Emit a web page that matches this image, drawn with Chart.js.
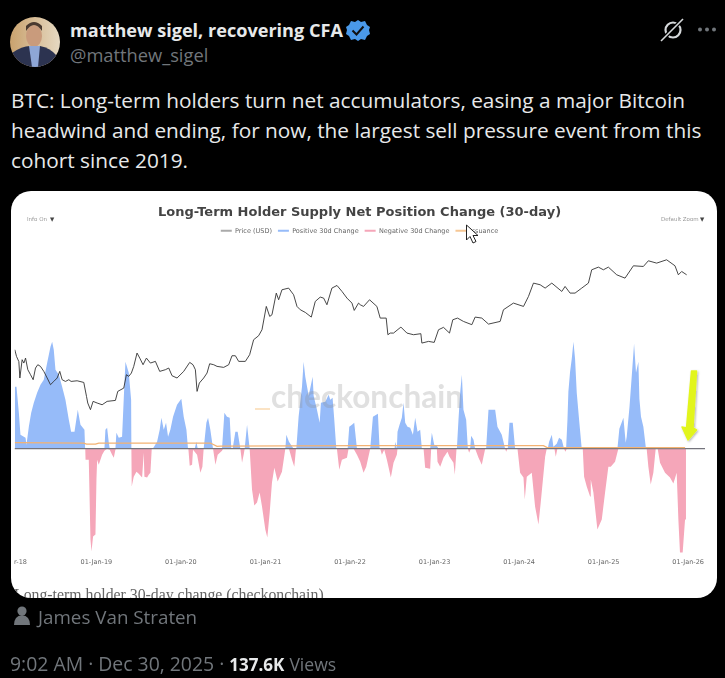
<!DOCTYPE html>
<html>
<head>
<meta charset="utf-8">
<title>Long-Term Holder Supply Net Position Change</title>
<script src="https://cdn.jsdelivr.net/npm/chart.js@4"></script>
<style>
    html, body { margin: 0; padding: 0; width: 725px; height: 678px; background: #000; overflow: hidden; }
    body { position: relative; font-family: "Open Sans", sans-serif; }
    .abs { position: absolute; white-space: nowrap; }
    #name { left: 70px; top: 18px; font-size: 18.1px; line-height: 24px; font-weight: 700; color: #e7e9ea; }
    #handle { left: 70px; top: 43px; font-size: 18.3px; line-height: 24px; color: #71767b; }
    .tweet { left: 11px; font-size: 20.8px; line-height: 30px; color: #e7e9ea; }
    #card { position: absolute; left: 11px; top: 191px; width: 706px; height: 407px; background: #fff; border-radius: 20px; overflow: hidden; }
    #chart { position: absolute; left: 0; top: 0; }
    .ctl { font-family: "DejaVu Sans", sans-serif; font-size: 5.5px; color: #999; }
    #mark { left: 260px; top: 185px; font-family: "Lato", sans-serif; font-weight: 700; font-size: 31.6px; line-height: 40px; color: rgba(140,140,140,0.27); }
    #dash { position: absolute; left: 244px; top: 217px; width: 15px; height: 2px; background: #fbe3c4; }
    #caption { left: 3px; top: 395px; font-family: "Liberation Serif", serif; font-size: 15.8px; line-height: 18px; color: #666; }
    #author { left: 38px; top: 605px; font-size: 18.8px; line-height: 24px; color: #71767b; }
    #stamp { left: 10px; top: 652px; font-size: 19.4px; line-height: 24px; color: #71767b; }
    #stamp b { color: #e7e9ea; font-size: 17px; }
    #stamp span { font-size: 17.6px; }
</style>
</head>
<body>
<svg class="abs" style="left:0;top:0" width="725" height="190">
    <defs>
        <clipPath id="face"><circle cx="35" cy="42" r="25"/></clipPath>
        <linearGradient id="wall" x1="0" x2="1" y1="0" y2="0"><stop offset="0" stop-color="#c9a26e"/><stop offset="1" stop-color="#e6d9c2"/></linearGradient>
    </defs>
    <g clip-path="url(#face)">
        <rect x="10" y="17" width="50" height="50" fill="url(#wall)"/>
        <ellipse cx="34" cy="36" rx="8" ry="11" fill="#c99b7c"/>
        <path d="M26 31 Q34 19 42 31 L42 26 Q34 18 26 26 Z" fill="#4a3a30"/>
        <path d="M10 67 L12 53 Q22 46 30 46 L40 46 Q50 48 56 55 L58 67 Z" fill="#2c3350"/>
        <path d="M29 46 L40 46 L38 67 L32 67 Z" fill="#8ea6d6"/>
    </g>
    <polygon points="358,20 361,22 365,21 367,25 370,27 369,30 370,34 367,36 365,40 361,39 358,41 355,39 351,40 349,36 346,34 347,30 346,27 349,25 351,21 355,22" fill="#4a99e9"/>
    <path d="M352.5 30.5 L356.5 34.5 L363.5 26.5" fill="none" stroke="#111" stroke-width="2"/>
    <circle cx="673" cy="30" r="7.5" fill="none" stroke="#d6d9db" stroke-width="2.2"/>
    <line x1="661" y1="41" x2="683" y2="19" stroke="#000" stroke-width="4"/>
    <line x1="661" y1="41" x2="683" y2="19" stroke="#d6d9db" stroke-width="1.6"/>
    <circle cx="700" cy="29.5" r="2" fill="#71767b"/><circle cx="707" cy="29.5" r="2" fill="#71767b"/><circle cx="714" cy="29.5" r="2" fill="#71767b"/>
</svg>
<div id="name" class="abs">matthew sigel, recovering CFA</div>
<div id="handle" class="abs">@matthew_sigel</div>
<div class="abs tweet" style="top:85px">BTC: Long-term holders turn net accumulators, easing a major Bitcoin</div>
<div class="abs tweet" style="top:115px">headwind and ending, for now, the largest sell pressure event from this</div>
<div class="abs tweet" style="top:145px">cohort since 2019.</div>

<div id="card">
    <canvas id="chart" width="706" height="407"></canvas>
    <div id="mark" class="abs">checkonchain</div>
    <div id="dash"></div>
    <div class="abs ctl" style="left:16px;top:25px">Info On</div>
    <div class="abs ctl" style="left:39px;top:25px;color:#444">▼</div>
    <div class="abs ctl" style="left:650px;top:25px">Default Zoom</div>
    <div class="abs ctl" style="left:689px;top:25px;color:#444">▼</div>
    <div id="caption" class="abs">Long-term holder 30-day change (checkonchain)</div>
</div>

<svg class="abs" style="left:0;top:0;pointer-events:none" width="725" height="678">
    <defs><filter id="soft" x="-40%" y="-10%" width="180%" height="120%"><feDropShadow dx="1" dy="1" stdDeviation="1.2" flood-color="#000" flood-opacity="0.3"/></filter></defs>
    <path d="M466.5 225 L466.5 240 L470 236.5 L473 243 L476 241.5 L473 235.5 L478 235.5 Z" fill="#fff" stroke="#222" stroke-width="1"/>
    <polygon points="691.5,371 696.5,371 693,428 696.5,430 688,440 682,427 686.5,428" fill="#e2f51f" stroke="#e2f51f" stroke-width="1.5" stroke-linejoin="round" filter="url(#soft)"/>
    <path d="M14 625 Q14 616 22 615 Q30 616 30 625 Z" fill="#71767b"/>
    <circle cx="22" cy="611" r="4.6" fill="#71767b"/>
</svg>
<div id="author" class="abs">James Van Straten</div>
<div id="stamp" class="abs">9:02 AM · Dec 30, 2025 · <b>137.6K</b> <span>Views</span></div>

<script>
// Values, x in decimal years
const seriesLabels = ['Price (USD)', 'Positive 30d Change', 'Negative 30d Change', 'Issuance'];

const tickYears = [2018.102, 2019, 2020, 2021, 2022, 2023, 2024, 2025, 2026];
const tickLabels = ['r-18', '01-Jan-19', '01-Jan-20', '01-Jan-21', '01-Jan-22', '01-Jan-23', '01-Jan-24', '01-Jan-25', '01-Jan-26'];

const priceYears = [
    2018.035, 2018.055, 2018.083, 2018.095, 2018.122, 2018.142, 2018.162, 2018.189, 2018.221, 2018.252,
    2018.280, 2018.307, 2018.339, 2018.378, 2018.418, 2018.457, 2018.496, 2018.536, 2018.567, 2018.595,
    2018.634, 2018.674, 2018.701, 2018.772, 2018.851, 2018.883, 2018.898, 2018.930, 2018.961, 2019.009,
    2019.068, 2019.127, 2019.225, 2019.253, 2019.324, 2019.355, 2019.383, 2019.414, 2019.442, 2019.481,
    2019.513, 2019.552, 2019.592, 2019.639, 2019.698, 2019.749, 2019.816, 2019.856, 2019.895, 2019.954,
    2020.033, 2020.104, 2020.143, 2020.171, 2020.191, 2020.218, 2020.269, 2020.309, 2020.340, 2020.388,
    2020.427, 2020.506, 2020.565, 2020.604, 2020.644, 2020.683, 2020.762, 2020.813, 2020.860, 2020.919,
    2020.959, 2021.010, 2021.050, 2021.077, 2021.128, 2021.156, 2021.195, 2021.274, 2021.333, 2021.373,
    2021.412, 2021.471, 2021.542, 2021.589, 2021.648, 2021.688, 2021.727, 2021.786, 2021.846, 2021.905,
    2021.964, 2022.023, 2022.050, 2022.101, 2022.121, 2022.160, 2022.231, 2022.318, 2022.357, 2022.428,
    2022.448, 2022.476, 2022.515, 2022.602, 2022.673, 2022.751, 2022.838, 2022.850, 2022.929, 2022.996,
    2023.047, 2023.106, 2023.177, 2023.216, 2023.272, 2023.342, 2023.441, 2023.480, 2023.559, 2023.638,
    2023.776, 2023.815, 2023.933, 2024.052, 2024.111, 2024.170, 2024.249, 2024.308, 2024.387, 2024.505,
    2024.544, 2024.603, 2024.662, 2024.741, 2024.820, 2024.859, 2024.938, 2024.997, 2025.056, 2025.155,
    2025.253, 2025.352, 2025.470, 2025.529, 2025.627, 2025.745, 2025.844, 2025.884, 2025.923, 2025.982
];
const priceUsd = [
    13443, 11398, 10010, 6670, 10495, 9664, 10930, 8194, 7240, 6397,
    8540, 9270, 8898, 7860, 6670, 5650, 6130, 6670, 7860, 6397,
    6130, 6397, 6130, 6230, 5980, 4235, 3590, 3045, 3740, 3590,
    3440, 3740, 3830, 4790, 5200, 7240, 6947, 7545, 8898, 12378,
    10930, 9270, 10930, 9664, 10070, 7860, 8194, 8540, 7060, 6670,
    7860, 9820, 9270, 8194, 4790, 5890, 6670, 7545, 9500, 9270,
    8898, 8680, 9270, 11580, 11580, 10070, 10070, 11880, 17219, 19010,
    22055, 39295, 30679, 31970, 54660, 46345, 59361, 61860, 52450, 39295,
    36183, 33870, 30170, 44470, 49500, 48300, 40950, 61860, 66050, 56960,
    48300, 42675, 35600, 42675, 40950, 39295, 46345, 39295, 29440, 29440,
    19490, 20308, 20308, 23560, 20308, 19490, 20000, 15855, 16520, 16120,
    22055, 23400, 20308, 28249, 29440, 27100, 25000, 30170, 29440, 25370,
    27100, 36183, 42675, 39295, 50331, 70011, 67200, 61860, 70011, 56960,
    64466, 54660, 54660, 61860, 70011, 97385, 104000, 97385, 104000, 86000,
    79200, 107500, 105760, 121700, 114856, 124734, 107500, 86000, 93400, 86000
];

const positiveYears = [
    2018.035, 2018.055, 2018.083, 2018.102, 2018.162, 2018.173, 2018.201, 2018.229, 2018.260, 2018.299,
    2018.339, 2018.378, 2018.418, 2018.457, 2018.477, 2018.496, 2018.516, 2018.556, 2018.595, 2018.634,
    2018.674, 2018.701, 2018.741, 2018.780, 2018.812, 2018.859, 2018.867, 2019.095, 2019.107, 2019.127,
    2019.147, 2019.158, 2019.225, 2019.237, 2019.265, 2019.304, 2019.332, 2019.344, 2019.383, 2019.411,
    2019.414, 2019.667, 2019.718, 2019.749, 2019.769, 2019.797, 2019.824, 2019.848, 2019.875, 2019.907,
    2019.954, 2020.005, 2020.033, 2020.065, 2020.084, 2020.163, 2020.183, 2020.199, 2020.269, 2020.301,
    2020.321, 2020.348, 2020.380, 2020.486, 2020.514, 2020.545, 2020.577, 2020.596, 2020.612, 2020.644,
    2020.671, 2020.703, 2020.754, 2020.782, 2020.813, 2021.235, 2021.247, 2021.278, 2021.333, 2021.365,
    2021.392, 2021.432, 2021.451, 2021.471, 2021.511, 2021.558, 2021.570, 2021.609, 2021.641, 2021.656,
    2021.708, 2021.747, 2021.767, 2021.794, 2021.814, 2021.838, 2021.972, 2021.991, 2022.023, 2022.050,
    2022.082, 2022.239, 2022.271, 2022.310, 2022.330, 2022.350, 2022.527, 2022.535, 2022.554, 2022.562,
    2022.586, 2022.613, 2022.633, 2022.653, 2022.680, 2022.712, 2022.744, 2022.771, 2022.799, 2022.830,
    2022.850, 2022.948, 2022.968, 2022.996, 2023.027, 2023.047, 2023.264, 2023.283, 2023.303, 2023.323,
    2023.342, 2023.374, 2023.394, 2023.421, 2023.433, 2023.461, 2023.480, 2023.610, 2023.638, 2023.677,
    2023.717, 2023.744, 2023.795, 2023.835, 2023.866, 2023.886, 2023.925, 2023.953, 2024.339, 2024.355,
    2024.387, 2024.406, 2024.445, 2024.473, 2024.505, 2024.532, 2024.556, 2024.572, 2024.583, 2024.603,
    2024.623, 2024.643, 2024.662, 2024.682, 2024.713, 2024.741, 2025.163, 2025.186, 2025.234, 2025.261,
    2025.273, 2025.305, 2025.332, 2025.360, 2025.383, 2025.411, 2025.423, 2025.442, 2025.470, 2025.501,
    2025.963, 2025.974
];
const positiveBtc = [
    620, 620, 360, 140, 110, 40, 220, 360, 460, 560,
    640, 690, 860, 1020, 1070, 990, 790, 740, 620, 490,
    290, 170, 170, 390, 240, 190, 0, 0, 190, 210,
    60, 0, 0, 160, 110, 120, 660, 870, 760, 490,
    0, 0, 70, 190, 310, 190, 260, 120, 190, 320,
    440, 500, 320, 190, 0, 0, 70, 0, 0, 260,
    310, 190, 0, 0, 360, 320, 310, 0, 0, 170,
    170, 0, 0, 240, 0, 0, 140, 70, 0, 0,
    320, 620, 870, 720, 530, 720, 530, 390, 260, 460,
    470, 540, 490, 510, 290, 0, 0, 220, 240, 260,
    0, 0, 320, 340, 350, 0, 0, 70, 0, 170,
    240, 310, 460, 260, 220, 210, 140, 310, 170, 190,
    0, 0, 160, 40, 30, 0, 0, 290, 560, 740,
    390, 290, 0, 0, 130, 90, 0, 0, 390, 390,
    390, 220, 140, 0, 0, 260, 260, 0, 0, 70,
    140, 20, 50, 110, 90, 0, 0, 290, 570, 770,
    900, 1070, 900, 560, 260, 0, 0, 200, 310, 60,
    120, 410, 720, 1050, 760, 870, 500, 320, 220, 0,
    10, 0
];

const negativeYears = [
    2018.867, 2018.871, 2018.910, 2018.930, 2018.942, 2018.961, 2018.989, 2019.001, 2019.009, 2019.028,
    2019.068, 2019.095, 2019.127, 2019.158, 2019.186, 2019.206, 2019.225, 2019.233, 2019.414, 2019.418,
    2019.442, 2019.474, 2019.501, 2019.541, 2019.560, 2019.568, 2019.600, 2019.619, 2019.639, 2019.655,
    2020.088, 2020.104, 2020.132, 2020.143, 2020.191, 2020.230, 2020.254, 2020.269, 2020.380, 2020.408,
    2020.435, 2020.486, 2020.498, 2020.703, 2020.723, 2020.742, 2020.754, 2020.813, 2020.841, 2020.868,
    2020.900, 2020.931, 2020.959, 2020.998, 2021.022, 2021.050, 2021.077, 2021.105, 2021.144, 2021.195,
    2021.235, 2021.278, 2021.314, 2021.341, 2021.361, 2021.845, 2021.873, 2021.904, 2021.964, 2021.983,
    2022.042, 2022.082, 2022.121, 2022.160, 2022.192, 2022.239, 2022.357, 2022.377, 2022.405, 2022.436,
    2022.483, 2022.515, 2022.554, 2022.562, 2022.870, 2022.889, 2022.948, 2022.960, 2023.027, 2023.035,
    2023.067, 2023.106, 2023.153, 2023.177, 2023.224, 2023.240, 2023.260, 2023.394, 2023.409, 2023.429,
    2023.480, 2023.520, 2023.559, 2023.599, 2023.835, 2023.847, 2023.862, 2023.981, 2024.012, 2024.052,
    2024.067, 2024.091, 2024.150, 2024.189, 2024.229, 2024.256, 2024.308, 2024.327, 2024.418, 2024.434,
    2024.453, 2024.532, 2024.548, 2024.564, 2024.753, 2024.769, 2024.800, 2024.840, 2024.848, 2024.879,
    2024.926, 2024.978, 2025.017, 2025.056, 2025.084, 2025.135, 2025.174, 2025.509, 2025.529, 2025.557,
    2025.588, 2025.616, 2025.639, 2025.667, 2025.726, 2025.785, 2025.825, 2025.864, 2025.884, 2025.903,
    2025.935, 2025.963, 2025.974
];
const negativeBtc = [
    0, -110, -110, -910, -1030, -880, -860, -310, -110, -160,
    -60, -20, 0, -10, -60, -90, -10, 0, 0, -380,
    -280, -230, -250, -290, -40, -280, -290, -260, -240, 0,
    0, -170, -160, -10, -60, -240, -180, 0, 0, -160,
    -60, -20, 0, 0, -140, -60, 0, 0, -410, -570,
    -540, -440, -580, -810, -890, -640, -340, -190, -330, -230,
    0, 0, -110, -180, 0, 0, -210, -110, -90, 0,
    0, -60, -130, -240, -180, 0, 0, -60, -10, -110,
    -290, -140, -60, 0, 0, -190, -200, 0, 0, -130,
    -180, -90, -30, -80, -140, -260, 0, 0, -40, 0,
    0, -90, -160, 0, 0, -30, 0, 0, -240, -290,
    -510, -280, -240, -580, -760, -540, -80, 0, 0, -80,
    0, 0, -30, 0, 0, -280, -380, -480, -310, -440,
    -810, -710, -440, -180, -180, -130, 0, 0, -180, -360,
    -240, 0, 0, -140, -240, -290, -350, -240, -710, -1040,
    -1040, -710, 0
];

const issuanceYears = [2018.035, 2018.851, 2018.883, 2018.989, 2019.028, 2020.348, 2020.427, 2020.467, 2022.121, 2024.288, 2024.327, 2025.963];
const issuanceBtc = [60, 55, 45, 45, 56, 56, 23, 26, 30, 30, 13, 10];

const zeroYears = [2018.032, 2026.199];
const zeroBtc = [0, 0];

function toPoints(xs, ys) {
    return xs.map((x, i) => ({ x: x, y: ys[i] }));
}

function areaDataset(label, xs, ys, color) {
    return {
        label: label,
        data: toPoints(xs, ys),
        yAxisID: 'net',
        borderWidth: 0,
        borderColor: color,
        backgroundColor: color,
        fill: 'origin',
        pointRadius: 0,
        order: 4
    };
}

new Chart(document.getElementById('chart'), {
    type: 'line',
    data: {
        datasets: [
            { label: seriesLabels[0], data: toPoints(priceYears, priceUsd), yAxisID: 'price', borderColor: '#333', backgroundColor: '#aaa', borderWidth: 0.9, pointRadius: 0, order: 1 },
            areaDataset(seriesLabels[1], positiveYears, positiveBtc, '#96bbf9'),
            areaDataset(seriesLabels[2], negativeYears, negativeBtc, '#f5a6b9'),
            { label: seriesLabels[3], data: toPoints(issuanceYears, issuanceBtc), yAxisID: 'net', borderColor: '#f3b272', backgroundColor: '#f6c795', borderWidth: 1.3, pointRadius: 0, order: 2 },
            { label: 'zero', data: toPoints(zeroYears, zeroBtc), yAxisID: 'net', borderColor: '#74747c', backgroundColor: '#74747c', borderWidth: 1.3, pointRadius: 0, order: 3 }
        ]
    },
    options: {
        responsive: false,
        animation: false,
        layout: { padding: { left: 3, right: 12 } },
        plugins: {
            tooltip: { enabled: false },
            title: {
                display: true,
                text: 'Long-Term Holder Supply Net Position Change (30-day)',
                color: '#444',
                font: { family: 'DejaVu Sans', size: 13, weight: 'bold' },
                padding: { top: 14, bottom: 1 }
            },
            legend: {
                display: true,
                labels: {
                    color: '#666',
                    font: { family: 'DejaVu Sans', size: 6.5 },
                    boxWidth: 11,
                    boxHeight: 2,
                    padding: 6,
                    sort: (a, b) => a.datasetIndex - b.datasetIndex,
                    filter: item => item.text !== 'zero',
                    generateLabels: chart => Chart.defaults.plugins.legend.labels.generateLabels(chart).map(item => Object.assign(item, { lineWidth: 0 }))
                }
            }
        },
        scales: {
            x: {
                type: 'linear',
                min: 2018.032,
                max: 2026.199,
                grid: { display: false, drawTicks: false },
                border: { display: false },
                afterBuildTicks: axis => { axis.ticks = tickYears.map(v => ({ value: v })); },
                afterFit: axis => { axis.height = 43; },
                ticks: {
                    autoSkip: false,
                    maxRotation: 0,
                    padding: 3,
                    color: '#666',
                    font: { family: 'DejaVu Sans', size: 6.5 },
                    callback: value => tickLabels[tickYears.indexOf(value)]
                }
            },
            net: { type: 'linear', display: false, min: -1064, max: 2046 },
            price: { type: 'logarithmic', display: false, min: 83.2, max: 184000 }
        }
    }
});
</script>
</body>
</html>
